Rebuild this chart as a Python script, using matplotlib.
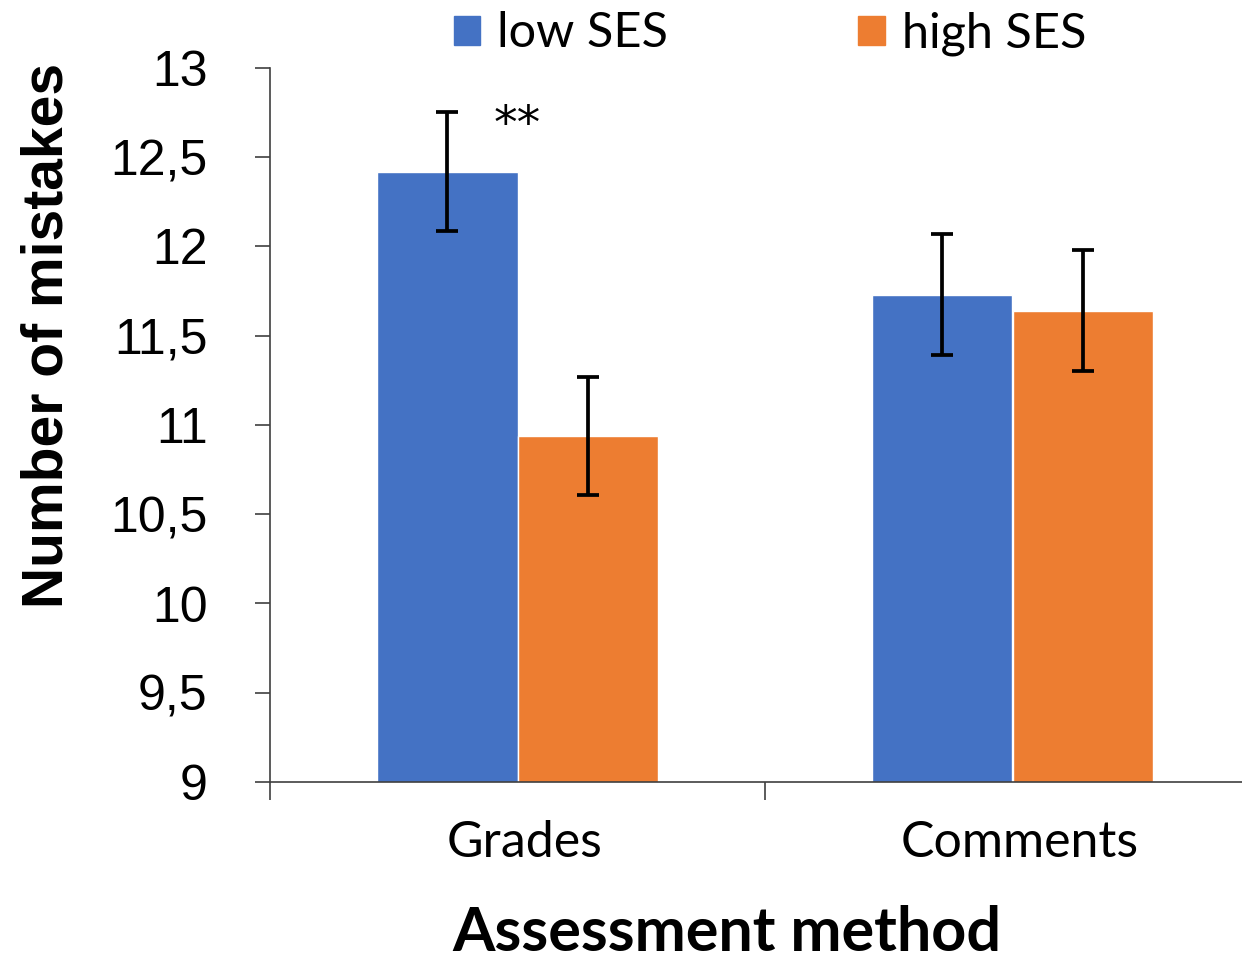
import numpy as np
import matplotlib.pyplot as plt
import matplotlib.transforms as mtransforms
from matplotlib.patches import Patch

# data
categories = ["Grades", "Comments"]
low_ses = [12.42, 11.73]
high_ses = [10.94, 11.64]
low_err = [0.335, 0.34]
high_err = [0.33, 0.34]
yticks = [9, 9.5, 10, 10.5, 11, 11.5, 12, 12.5, 13]
ytick_labels = ["9", "9,5", "10", "10,5", "11", "11,5", "12", "12,5", "13"]

blue = "#4472C4"
orange = "#ED7D31"

fig = plt.figure(figsize=(12.42, 9.63), dpi=100)
ax = fig.add_axes([270 / 1242, 181 / 963, 990 / 1242, 714 / 963])

x = np.arange(len(categories))
w = 0.283
eb = dict(ecolor="black", elinewidth=2.7, capsize=8, capthick=2.7)
ax.bar(x - w / 2, low_ses, w, color=blue, edgecolor="white", linewidth=1,
       yerr=low_err, error_kw=eb, label="low SES", zorder=2)
ax.bar(x + w / 2, high_ses, w, color=orange, edgecolor="white", linewidth=1,
       yerr=high_err, error_kw=eb, label="high SES", zorder=2)

ax.set_ylim(9, 13)
ax.set_xlim(-0.5, 1.5)

ax.set_yticks(yticks)
ax.set_yticklabels(ytick_labels, family="Liberation Sans", fontsize=36)
ax.tick_params(axis="y", direction="out", length=11, width=1.2, color="#404040", pad=34)

ax.set_xticks(x)
ax.set_xticklabels(categories, family="Lato", fontsize=36)
ax.tick_params(axis="x", which="major", length=0, pad=27)
ax.set_xticks([-0.5, 0.5, 1.5], minor=True)
ax.tick_params(axis="x", which="minor", direction="out", length=13, width=1.2, color="#404040")
# category labels sit a little right of the group centre
shift = mtransforms.ScaledTranslation(7 / 100, 0, fig.dpi_scale_trans)
for lab in ax.get_xticklabels():
    lab.set_transform(lab.get_transform() + shift)

for s in ["top", "right"]:
    ax.spines[s].set_visible(False)
for s in ["left", "bottom"]:
    ax.spines[s].set_color("#404040")
    ax.spines[s].set_linewidth(1.2)

ax.text(0.0, 12.68, "**", ha="center", va="center", fontsize=34, family="DejaVu Sans")

fig.text(0.0386, 0.652, "Number of mistakes", rotation=90, ha="center", va="center",
         fontsize=41, fontweight="bold", family="Liberation Sans")
fig.text(0.585, 0.031, "Assessment method", ha="center", va="center",
         fontsize=44, fontweight="bold", family="Lato")

handles = [Patch(color=blue), Patch(color=orange)]
fig.legend(handles, ["low SES", "high SES"], loc="center", bbox_to_anchor=(0.62, 0.965),
           ncol=2, frameon=False, prop={"family": "Lato", "size": 35},
           handlelength=0.55, handleheight=0.55, handletextpad=0.35, columnspacing=3.9)

fig.savefig("out.png", dpi=100)
